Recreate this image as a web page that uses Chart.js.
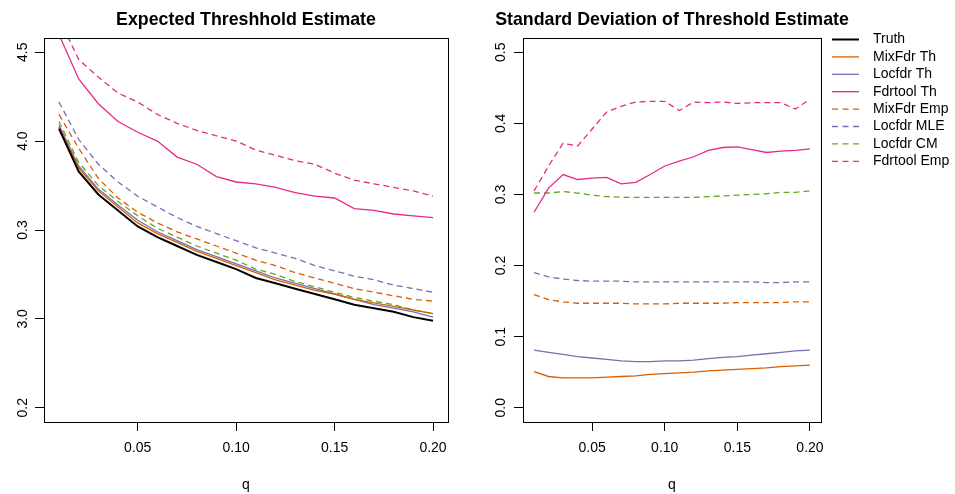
<!DOCTYPE html>
<html>
<head>
<meta charset="utf-8">
<script src="https://cdn.jsdelivr.net/npm/chart.js@4.4.1/dist/chart.umd.min.js"></script>
<style>
  html, body { margin: 0; padding: 0; background: #fff; }
  #wrap { position: relative; width: 955px; height: 494px; }
  #left { position: absolute; left: 0; top: 0; }
  #right { position: absolute; left: 470px; top: 0; }
</style>
</head>
<body>
<div id="wrap">
  <canvas id="left" width="470" height="494"></canvas>
  <canvas id="right" width="485" height="494"></canvas>
</div>
<script>
const qValues = [0.01, 0.02, 0.03, 0.04, 0.05, 0.06, 0.07, 0.08, 0.09, 0.10,
                 0.11, 0.12, 0.13, 0.14, 0.15, 0.16, 0.17, 0.18, 0.19, 0.20];

// expected threshold (left panel)
const truthMean      = [4.07, 3.83, 3.70, 3.61, 3.52, 3.46, 3.41, 3.36, 3.32, 3.28, 3.23, 3.20, 3.17, 3.14, 3.11, 3.08, 3.06, 3.04, 3.01, 2.99];
const mixFdrThMean   = [4.08, 3.85, 3.72, 3.63, 3.54, 3.48, 3.43, 3.38, 3.34, 3.30, 3.26, 3.22, 3.19, 3.16, 3.14, 3.11, 3.09, 3.07, 3.05, 3.03];
const locfdrThMean   = [4.09, 3.86, 3.73, 3.64, 3.555, 3.49, 3.44, 3.39, 3.35, 3.31, 3.27, 3.23, 3.20, 3.17, 3.14, 3.11, 3.08, 3.06, 3.04, 3.01];
const fdrtoolThMean  = [4.60, 4.35, 4.21, 4.11, 4.05, 4.00, 3.91, 3.87, 3.80, 3.77, 3.76, 3.74, 3.71, 3.69, 3.68, 3.62, 3.61, 3.59, 3.58, 3.57];
const mixFdrEmpMean  = [4.15, 3.96, 3.79, 3.68, 3.60, 3.54, 3.49, 3.45, 3.41, 3.37, 3.33, 3.30, 3.26, 3.23, 3.20, 3.17, 3.15, 3.13, 3.11, 3.10];
const locfdrMleMean  = [4.22, 4.01, 3.87, 3.77, 3.69, 3.63, 3.57, 3.52, 3.48, 3.44, 3.40, 3.37, 3.34, 3.30, 3.27, 3.24, 3.22, 3.19, 3.17, 3.15];
const locfdrCmMean   = [4.11, 3.88, 3.75, 3.66, 3.58, 3.51, 3.46, 3.41, 3.37, 3.33, 3.28, 3.25, 3.21, 3.18, 3.15, 3.12, 3.10, 3.08, 3.05, 3.03];
const fdrtoolEmpMean = [4.69, 4.46, 4.36, 4.27, 4.22, 4.15, 4.10, 4.06, 4.03, 4.00, 3.95, 3.92, 3.89, 3.87, 3.82, 3.78, 3.76, 3.74, 3.72, 3.69];

// standard deviation (right panel), truth has none
const mixFdrThSd   = [0.051, 0.044, 0.042, 0.042, 0.042, 0.043, 0.044, 0.045, 0.047, 0.048, 0.049, 0.050, 0.052, 0.053, 0.054, 0.055, 0.056, 0.058, 0.059, 0.060];
const locfdrThSd   = [0.081, 0.078, 0.075, 0.072, 0.070, 0.068, 0.066, 0.065, 0.065, 0.066, 0.066, 0.067, 0.069, 0.071, 0.072, 0.074, 0.076, 0.078, 0.080, 0.081];
const fdrtoolThSd  = [0.275, 0.309, 0.328, 0.321, 0.323, 0.324, 0.315, 0.317, 0.328, 0.340, 0.347, 0.353, 0.362, 0.366, 0.367, 0.363, 0.359, 0.361, 0.362, 0.364];
const mixFdrEmpSd  = [0.159, 0.152, 0.149, 0.147, 0.147, 0.147, 0.147, 0.146, 0.146, 0.146, 0.147, 0.147, 0.147, 0.147, 0.148, 0.148, 0.148, 0.148, 0.149, 0.149];
const locfdrMleSd  = [0.190, 0.184, 0.181, 0.179, 0.178, 0.178, 0.178, 0.177, 0.177, 0.177, 0.177, 0.177, 0.177, 0.177, 0.177, 0.177, 0.176, 0.176, 0.177, 0.177];
const locfdrCmSd   = [0.302, 0.302, 0.304, 0.302, 0.299, 0.297, 0.296, 0.296, 0.296, 0.296, 0.296, 0.296, 0.297, 0.298, 0.299, 0.300, 0.301, 0.303, 0.303, 0.305];
const fdrtoolEmpSd = [0.305, 0.340, 0.372, 0.368, 0.392, 0.416, 0.424, 0.430, 0.431, 0.431, 0.418, 0.430, 0.429, 0.430, 0.428, 0.429, 0.429, 0.429, 0.420, 0.434];

const seriesLabels = ['Truth', 'MixFdr Th', 'Locfdr Th', 'Fdrtool Th', 'MixFdr Emp', 'Locfdr MLE', 'Locfdr CM', 'Fdrtool Emp'];
const seriesColors = ['#000000', '#D95F02', '#7570B3', '#E7298A', '#D95F02', '#7570B3', '#66A61E', '#E7298A'];
const seriesDashed = [false, false, false, false, true, true, true, true];

const xTickValues = [0.05, 0.10, 0.15, 0.20];
const leftYTickValues = [2.5, 3.0, 3.5, 4.0, 4.5];
const leftYTickLabels = ['0.2', '3.0', '0.3', '4.0', '4.5'];
const rightYTickValues = [0.0, 0.1, 0.2, 0.3, 0.4, 0.5];

const leftSeries = [truthMean, mixFdrThMean, locfdrThMean, fdrtoolThMean, mixFdrEmpMean, locfdrMleMean, locfdrCmMean, fdrtoolEmpMean];
const rightSeries = [[], mixFdrThSd, locfdrThSd, fdrtoolThSd, mixFdrEmpSd, locfdrMleSd, locfdrCmSd, fdrtoolEmpSd];

const FONT = '"Liberation Sans", Arial, Helvetica, sans-serif';

function makeDatasets(series) {
  return series.map((vals, i) => ({
    label: seriesLabels[i],
    data: vals.map((v, j) => ({ x: qValues[j], y: v })),
    borderColor: seriesColors[i],
    borderWidth: i === 0 ? 2 : 1.3,
    borderDash: seriesDashed[i] ? [6, 4] : [],
    pointRadius: 0,
    tension: 0,
    fill: false
  }));
}

// R style box round the plot region, plus the main title centred over it
const boxPlugin = {
  id: 'plotBox',
  afterDraw(chart, args, opts) {
    const { left, top, right, bottom } = chart.chartArea;
    const ctx = chart.ctx;
    ctx.save();
    ctx.strokeStyle = '#000';
    ctx.lineWidth = 1;
    ctx.strokeRect(Math.round(left) + 0.5, Math.round(top) + 0.5, Math.round(right - left), Math.round(bottom - top));
    ctx.font = 'bold 17.8px ' + FONT;
    ctx.fillStyle = '#000';
    ctx.textAlign = 'center';
    ctx.textBaseline = 'middle';
    ctx.fillText(opts.text, (left + right) / 2, 20);
    ctx.restore();
  }
};

const sideLegend = {
  id: 'sideLegend',
  afterDraw(chart) {
    const ctx = chart.ctx;
    const x0 = chart.chartArea.right + 11;
    ctx.save();
    ctx.font = '14px ' + FONT;
    ctx.textBaseline = 'middle';
    ctx.textAlign = 'left';
    chart.data.datasets.forEach((ds, i) => {
      const y = 39.5 + i * 17.4;
      ctx.strokeStyle = ds.borderColor;
      ctx.lineWidth = i === 0 ? 2 : 1.3;
      ctx.setLineDash(ds.borderDash.length ? [6, 4.5] : []);
      ctx.beginPath();
      ctx.moveTo(x0, y);
      ctx.lineTo(x0 + 27, y);
      ctx.stroke();
      ctx.setLineDash([]);
      ctx.fillStyle = '#000';
      ctx.fillText(ds.label, x0 + 41, y);
    });
    ctx.restore();
  }
};

function xScale() {
  return {
    type: 'linear',
    min: 0.0024,
    max: 0.2076,
    afterBuildTicks: s => { s.ticks = xTickValues.map(v => ({ value: v })); },
    afterFit: s => { s.height = 72; },
    grid: { drawOnChartArea: false, drawTicks: true, tickLength: 9, color: '#000' },
    border: { display: false },
    ticks: {
      font: { family: FONT, size: 14 },
      color: '#000',
      padding: 9,
      maxRotation: 0,
      callback: v => v.toFixed(2)
    },
    title: { display: true, text: 'q', font: { family: FONT, size: 14 }, color: '#000', padding: { top: 0, bottom: 0 } }
  };
}

function yScale(min, max, values, labelFn, width, pad) {
  return {
    type: 'linear',
    min: min,
    max: max,
    afterBuildTicks: s => { s.ticks = values.map(v => ({ value: v })); },
    afterFit: s => { s.width = width; },
    grid: { drawOnChartArea: false, drawTicks: true, tickLength: 9, color: '#000' },
    border: { display: false },
    ticks: {
      font: { family: FONT, size: 14 },
      color: '#000',
      minRotation: 90,
      maxRotation: 90,
      crossAlign: 'center',
      padding: pad,
      callback: labelFn
    }
  };
}

new Chart(document.getElementById('left'), {
  type: 'line',
  data: { datasets: makeDatasets(leftSeries) },
  options: {
    responsive: false,
    animation: false,
    layout: { padding: { left: 0, right: 22, top: 38, bottom: 0 } },
    plugins: {
      legend: { display: false },
      tooltip: { enabled: false },
      plotBox: { text: 'Expected Threshhold Estimate' }
    },
    scales: {
      x: xScale(),
      y: yScale(2.42, 4.58, leftYTickValues, v => leftYTickLabels[leftYTickValues.indexOf(v)], 44, 2.3)
    }
  },
  plugins: [boxPlugin]
});

new Chart(document.getElementById('right'), {
  type: 'line',
  data: { datasets: makeDatasets(rightSeries) },
  options: {
    responsive: false,
    animation: false,
    layout: { padding: { left: 0, right: 134, top: 38, bottom: 0 } },
    plugins: {
      legend: { display: false },
      tooltip: { enabled: false },
      plotBox: { text: 'Standard Deviation of Threshold Estimate' }
    },
    scales: {
      x: xScale(),
      y: yScale(-0.02, 0.52, rightYTickValues, v => v.toFixed(1), 53, 3.3)
    }
  },
  plugins: [boxPlugin, sideLegend]
});
</script>
</body>
</html>
